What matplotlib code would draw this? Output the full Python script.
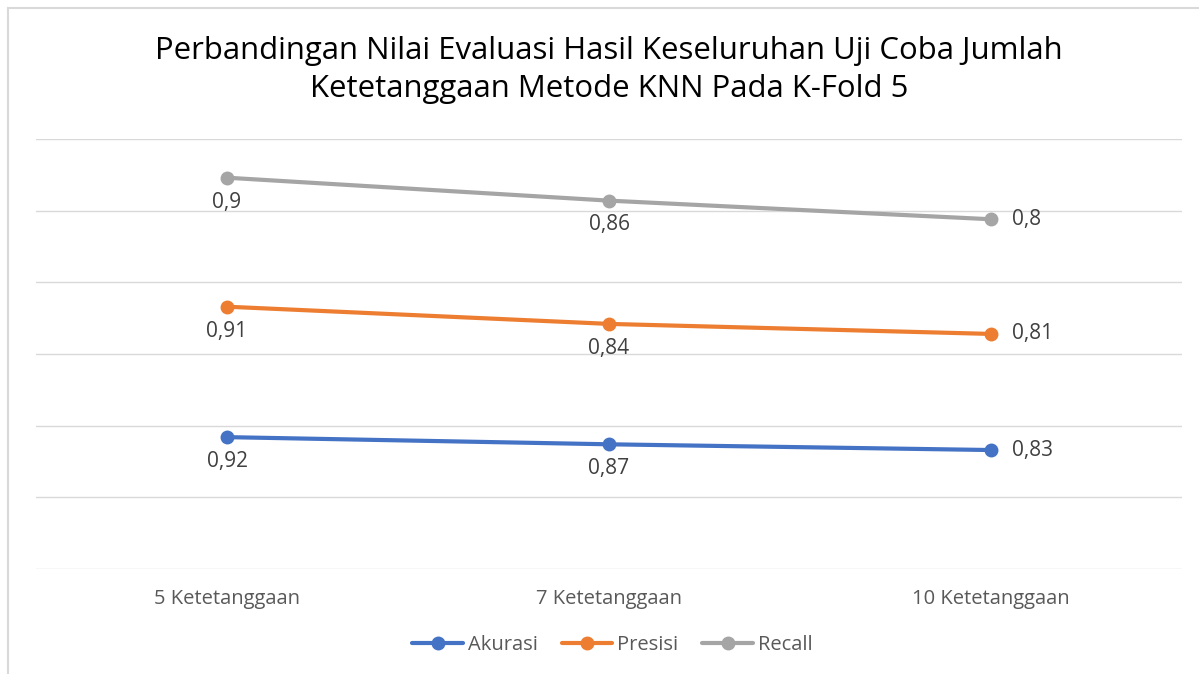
import matplotlib.pyplot as plt
import numpy as np

plt.rcParams['font.family'] = ['Open Sans', 'DejaVu Sans']

# data
kategori = ['5 Ketetanggaan', '7 Ketetanggaan', '10 Ketetanggaan']
akurasi = [0.92, 0.87, 0.83]
presisi = [0.91, 0.84, 0.81]
recall = [0.9, 0.86, 0.8]

seri = ['Akurasi', 'Presisi', 'Recall']
warna = ['#4472C4', '#ED7D31', '#A5A5A5']

fig = plt.figure(figsize=(11.99, 6.74), dpi=100)
ax = fig.add_axes([36 / 1199, 105 / 674, 1146 / 1199, 430 / 674])

x = np.arange(len(kategori))
# grafik garis bertumpuk (stacked line) seperti di Excel
dasar = np.zeros(len(kategori))
for nama, nilai, c in zip(seri, [akurasi, presisi, recall], warna):
    y = dasar + np.array(nilai)
    ax.plot(x, y, color=c, lw=3, marker='o', ms=9, label=nama,
            solid_capstyle='round', zorder=3)
    for i, (xi, yi, v) in enumerate(zip(x, y, nilai)):
        teks = f'{v:g}'.replace('.', ',')
        if i < len(x) - 1:
            ax.annotate(teks, (xi, yi), xytext=(0, -17.5), textcoords='offset points',
                        ha='center', va='center', fontsize=15, color='#404040')
        else:
            ax.annotate(teks, (xi, yi), xytext=(15, 0), textcoords='offset points',
                        ha='left', va='center', fontsize=15, color='#404040')
    dasar = y

ax.set_xlim(-0.5, len(kategori) - 0.5)
ax.set_ylim(0, 3)
ax.set_yticks(np.arange(0, 3.01, 0.5))
ax.set_yticklabels([])
ax.set_xticks(x)
ax.set_xticklabels(kategori, fontsize=14.5, color='#595959')
ax.tick_params(length=0, pad=14.5)
ax.grid(axis='y', color='#D9D9D9', lw=1)
ax.set_axisbelow(True)
for s in ax.spines.values():
    s.set_visible(False)

fig.text(0.508, 1 - 70 / 674,
         'Perbandingan Nilai Evaluasi Hasil Keseluruhan Uji Coba Jumlah\nKetetanggaan Metode KNN Pada K-Fold 5',
         ha='center', va='center', fontsize=22.4, color='#000000', linespacing=1.33)

ax.legend(loc='center', bbox_to_anchor=(0.503, (569 - 645) / 430), frameon=False,
          ncol=3, fontsize=14.5, handlelength=2.5, handletextpad=0.25, columnspacing=1.2,
          labelcolor='#595959')

# bingkai chart
fig.add_artist(plt.Line2D([8 / 1199, 1], [1 - 8 / 674, 1 - 8 / 674], color='#D9D9D9', lw=1.5))
fig.add_artist(plt.Line2D([8 / 1199, 8 / 1199], [0, 1 - 8 / 674], color='#D9D9D9', lw=1.5))

fig.savefig('out.png', dpi=100)
